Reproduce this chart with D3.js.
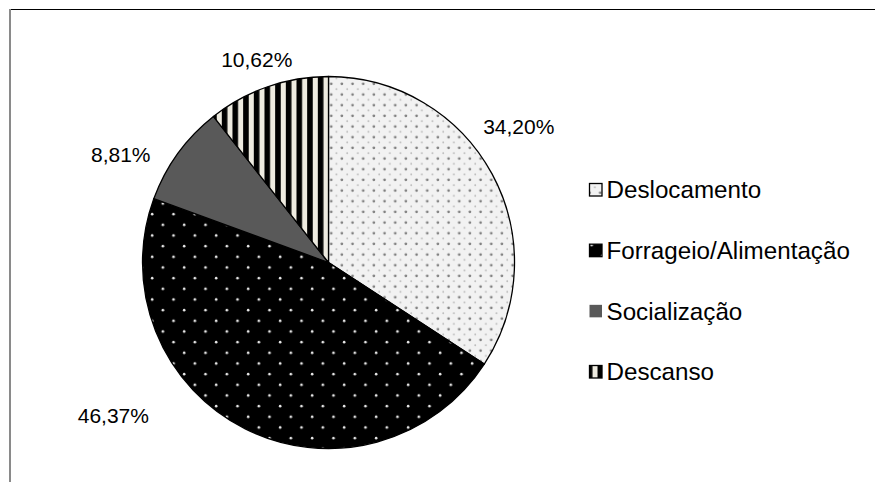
<!DOCTYPE html>
<html>
<head>
<meta charset="utf-8">
<script src="https://cdn.jsdelivr.net/npm/d3@7"></script>
<style>
  html, body { margin: 0; padding: 0; background: #fff; }
  svg { display: block; font-family: "Liberation Sans", Arial, sans-serif; }
</style>
</head>
<body>
<svg id="chart" width="875" height="482"></svg>
<script>
// Activity budget shares (%)
const categories = ["Deslocamento", "Forrageio/Alimentação", "Socialização", "Descanso"];
const values = [34.20, 46.37, 8.81, 10.62];
const valueLabels = ["34,20%", "46,37%", "8,81%", "10,62%"];

// Label placement around the pie: bearing (deg, clockwise from top) and distance
const labelPolar = [[54.4, 234], [234.6, 264], [297.4, 234], [340.5, 215]];

const W = 875, H = 482;
const cx = 328.5, cy = 262.5, R = 186;

const svg = d3.select("#chart");
const defs = svg.append("defs");

// Grey dots on light grey
const pDots = defs.append("pattern").attr("id", "pDesl")
  .attr("patternUnits", "userSpaceOnUse").attr("width", 10.67).attr("height", 10.67);
pDots.append("rect").attr("width", 10.67).attr("height", 10.67).attr("fill", "#f2f2f2");
pDots.append("circle").attr("cx", 2.7).attr("cy", 2.7).attr("r", 1.35).attr("fill", "#7d7d7d");
pDots.append("circle").attr("cx", 8.0).attr("cy", 8.0).attr("r", 0.9).attr("fill", "#b8b8b8");

// Sparse white dots on black
const pBlack = defs.append("pattern").attr("id", "pForr")
  .attr("patternUnits", "userSpaceOnUse").attr("width", 21.33).attr("height", 21.33);
pBlack.append("rect").attr("width", 21.33).attr("height", 21.33).attr("fill", "#000");
pBlack.append("circle").attr("cx", 5).attr("cy", 5).attr("r", 1.3).attr("fill", "#e8e8e8");
pBlack.append("circle").attr("cx", 15.67).attr("cy", 15.67).attr("r", 1.3).attr("fill", "#e8e8e8");

// Vertical black / cream stripes
const pStripe = defs.append("pattern").attr("id", "pDesc")
  .attr("patternUnits", "userSpaceOnUse").attr("width", 10.67).attr("height", 10.67);
pStripe.append("rect").attr("width", 10.67).attr("height", 10.67).attr("fill", "#eeebe0");
pStripe.append("rect").attr("x", 0).attr("width", 5.6).attr("height", 10.67).attr("fill", "#000");

const fills = ["url(#pDesl)", "url(#pForr)", "#595959", "url(#pDesc)"];

// Chart frame edges
svg.append("line").attr("x1", 9).attr("y1", 9.5).attr("x2", W).attr("y2", 9.5)
  .attr("stroke", "#000").attr("stroke-width", 1);
svg.append("line").attr("x1", 10).attr("y1", 9).attr("x2", 10).attr("y2", H)
  .attr("stroke", "#8a8a8a").attr("stroke-width", 2);

const pie = d3.pie().sort(null).value(d => d);
const arcs = pie(values);
const arc = d3.arc().innerRadius(0).outerRadius(R);

const g = svg.append("g").attr("transform", `translate(${cx},${cy})`);
g.selectAll("path.slice").data(arcs).enter().append("path")
  .attr("class", "slice")
  .attr("d", arc)
  .attr("fill", (d, i) => fills[i])
  .attr("stroke", "#000")
  .attr("stroke-width", 1.3)
  .attr("stroke-linejoin", "round");

// Percentage labels
g.selectAll("text.val").data(arcs).enter().append("text")
  .attr("class", "val")
  .attr("x", (d, i) => labelPolar[i][1] * Math.sin(labelPolar[i][0] * Math.PI / 180))
  .attr("y", (d, i) => -labelPolar[i][1] * Math.cos(labelPolar[i][0] * Math.PI / 180))
  .attr("dy", "0.35em")
  .attr("text-anchor", "middle")
  .attr("font-size", 21)
  .attr("fill", "#000")
  .text((d, i) => valueLabels[i]);

// Legend
const legendY = d3.scalePoint().domain(categories).range([190, 372]);
const lg = svg.append("g");
const item = lg.selectAll("g.item").data(categories).enter().append("g")
  .attr("class", "item")
  .attr("transform", d => `translate(0,${legendY(d)})`);
item.append("rect")
  .attr("x", 589.5).attr("y", -6.5).attr("width", 12.5).attr("height", 12.5)
  .attr("fill", (d, i) => fills[i])
  .attr("stroke", (d, i) => i === 2 ? "none" : "#000")
  .attr("stroke-width", 1.3);
item.append("text")
  .attr("x", 606.5).attr("y", 0).attr("dy", "0.35em")
  .attr("font-size", 24.2)
  .attr("fill", "#000")
  .text(d => d);
</script>
</body>
</html>
